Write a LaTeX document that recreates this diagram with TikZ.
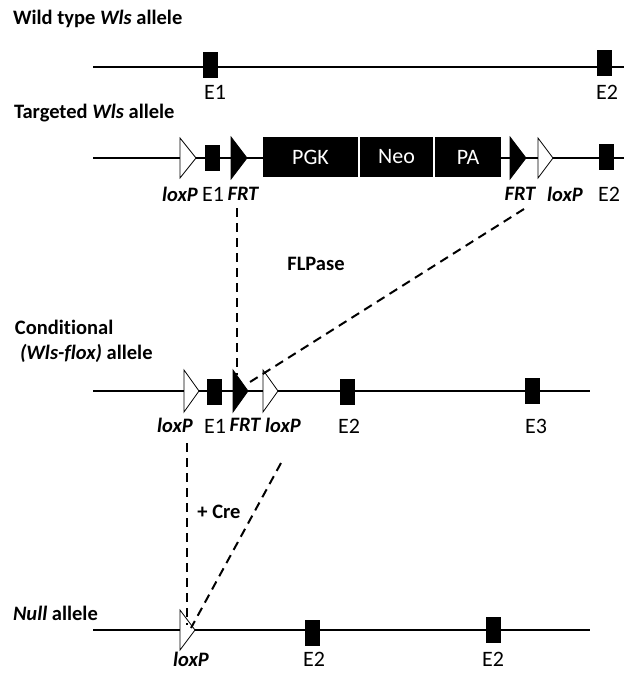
\documentclass[tikz,border=0pt]{standalone}
\usepackage{fontspec}
\setmainfont{Carlito}[Ligatures=NoCommon]
\usetikzlibrary{positioning}
\tikzset{exon/.style = {fill, inner sep = 0, minimum width = 15, minimum height = 26}}
\tikzset{lbl/.style = {inner sep = 0, font = \fontsize{22}{24}\selectfont}}
\tikzset{site/.style = {inner sep = 0, font = \fontsize{20.5}{23}\selectfont\bfseries\itshape}}
\tikzset{ttl/.style = {anchor = west, inner sep = 0, font = \fontsize{20.5}{23}\selectfont\bfseries}}
\tikzset{cassette/.style = {fill, text = white, inner sep = 0, minimum height = 40,
    font = \fontsize{22}{24}\selectfont}}
\tikzset{lox/.style = {draw, fill = white, line width = 0.8}}
\tikzset{frt/.style = {draw, fill, line width = 0.8}}

\begin{document}
\begin{tikzpicture}[x=1pt, y=-1pt, every path/.style={line width=2}]
      \useasboundingbox (0,0) rectangle (624,673);
      \tikzset{cut/.style = {dashed, dash pattern = on 9 off 6}}

      % wild type
      \node[ttl] (wt) at (12,19) {Wild type \textit{Wls} allele};
      \draw (93,67) -- (624,67);
      \node[exon] (wte1) at (210,65) {};
      \node[exon] (wte2) at (604,63) {};
      \node[lbl] at (215,92) {E1};
      \node[lbl] at (607,92) {E2};

      % targeted
      \node[ttl] (tg) at (13,113) {Targeted \textit{Wls} allele};
      \draw (93,158) -- (624,158);
      \draw[lox] (180,138) -- (196,158) -- (180,178) -- cycle;
      \draw[frt] (231,137) -- (247,158) -- (231,179) -- cycle;
      \draw[frt] (510,137) -- (526,158) -- (510,179) -- cycle;
      \draw[lox] (538,138) -- (553,158) -- (538,178) -- cycle;
      \node[exon] (tge1) at (212.5,158) {};
      \node[exon] (tge2) at (606,157) {};
      \node[cassette, minimum width = 95] (pgk) at (310.5,157) {PGK};
      \node[cassette, minimum width = 73, right = 0 of pgk] (neo) {Neo};
      \node[cassette, minimum width = 66, right = 0 of neo] (pa) {PA};
      \draw[white, line width = 1.5] (pgk.north east) -- (pgk.south east);
      \draw[white, line width = 1.5] (neo.north east) -- (neo.south east);
      \node[site] (tglox1) at (180,194) {loxP};
      \node[lbl] at (213,194) {E1};
      \node[site] (tgfrt1) at (243,194) {FRT};
      \node[site] (tgfrt2) at (520,194) {FRT};
      \node[site] (tglox2) at (565,194) {loxP};
      \node[lbl] at (609,194) {E2};

      \node[font = \fontsize{20.5}{23}\selectfont\bfseries] (flp) at (316,264) {FLPase};

      % conditional
      \node[ttl] (cd) at (14,327) {Conditional};
      \node[ttl] (cd2) at (19,353) {\textit{(Wls-flox)} allele};
      \draw (93,391) -- (590,391);
      \draw[lox] (184,370) -- (199,391) -- (184,412) -- cycle;
      \draw[frt] (233,370) -- (248,391) -- (233,412) -- cycle;
      \draw[lox] (263,370) -- (278,391) -- (263,412) -- cycle;
      \node[exon] (cde1) at (214.5,392) {};
      \node[exon] (cde2) at (347.5,392) {};
      \node[exon] (cde3) at (532,391) {};
      \node[site] (cdlox1) at (175,425) {loxP};
      \node[lbl] at (215,426) {E1};
      \node[site] (cdfrt) at (245,425) {FRT};
      \node[site] (cdlox2) at (283,425) {loxP};
      \node[lbl] at (349,426) {E2};
      \node[lbl] at (536,426) {E3};

      \node[font = \fontsize{20.5}{23}\selectfont\bfseries] (cre) at (219,512) {+ Cre};

      % null
      \node[ttl] (nl) at (12,613) {\textit{Null} allele};
      \draw (93,630) -- (590,630);
      \draw[lox] (180,610) -- (195,630) -- (180,650) -- cycle;
      \node[exon] (nle2) at (312.5,633) {};
      \node[exon] (nle2b) at (493,630) {};
      \node[site] (nllox) at (191,659) {loxP};
      \node[lbl] at (314,659) {E2};
      \node[lbl] at (493,659) {E2};

      % excision lines
      \coordinate (f1) at (237,208);
      \coordinate (f2) at (237,375);
      \coordinate (f3) at (524,209);
      \coordinate (f4) at (250,382);
      \coordinate (c1) at (187,443);
      \coordinate (c2) at (187,625);
      \coordinate (c3) at (281,463);
      \coordinate (c4) at (191,628);
      \draw[cut] (f1) -- (f2);
      \draw[cut] (f3) -- (f4);
      \draw[cut] (c1) -- (c2);
      \draw[cut] (c3) -- (c4);
  \end{tikzpicture}
\end{document}
